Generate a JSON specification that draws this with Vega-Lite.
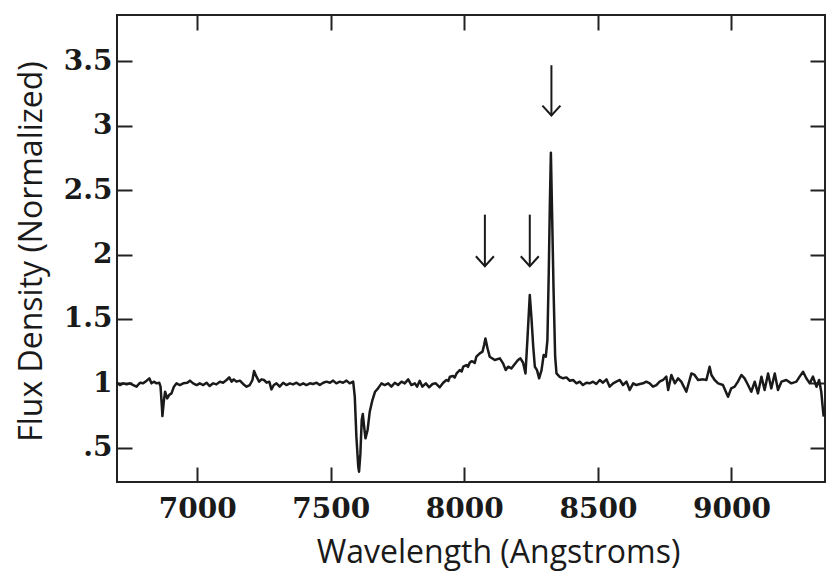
{
  "$schema": "https://vega.github.io/schema/vega-lite/v6.json",
  "width": 708,
  "height": 467,
  "autosize": {"type": "none"},
  "padding": {"left": 117, "top": 15, "right": 5, "bottom": 95},
  "background": "white",
  "config": {
    "view": {"stroke": "#222222", "strokeWidth": 2},
    "axis": {"grid": false, "domain": false, "tickColor": "#222222", "tickWidth": 2, "tickSize": -15,
             "labelColor": "#1a1a1a", "titleColor": "#1a1a1a"}
  },
  "datasets": {
    "spectrum": [
      {"w": 6700, "f": 1.005}, {"w": 6711, "f": 0.987}, {"w": 6723, "f": 1.0}, {"w": 6736, "f": 0.992},
      {"w": 6748, "f": 1.0}, {"w": 6761, "f": 0.987}, {"w": 6773, "f": 0.974}, {"w": 6786, "f": 1.005},
      {"w": 6798, "f": 1.0}, {"w": 6811, "f": 1.021}, {"w": 6821, "f": 1.039}, {"w": 6829, "f": 1.0},
      {"w": 6838, "f": 1.013}, {"w": 6848, "f": 1.0}, {"w": 6858, "f": 1.005}, {"w": 6863, "f": 0.974},
      {"w": 6868, "f": 0.819}, {"w": 6870, "f": 0.746}, {"w": 6875, "f": 0.857}, {"w": 6880, "f": 0.935},
      {"w": 6888, "f": 0.883}, {"w": 6895, "f": 0.909}, {"w": 6904, "f": 0.922}, {"w": 6913, "f": 0.974},
      {"w": 6923, "f": 1.0}, {"w": 6935, "f": 0.987}, {"w": 6948, "f": 1.0}, {"w": 6963, "f": 1.005},
      {"w": 6973, "f": 1.021}, {"w": 6985, "f": 1.0}, {"w": 6998, "f": 0.987}, {"w": 7010, "f": 1.0},
      {"w": 7023, "f": 0.987}, {"w": 7035, "f": 1.005}, {"w": 7047, "f": 0.979}, {"w": 7060, "f": 1.0},
      {"w": 7072, "f": 0.992}, {"w": 7085, "f": 1.013}, {"w": 7097, "f": 1.005}, {"w": 7110, "f": 1.026},
      {"w": 7120, "f": 1.046}, {"w": 7129, "f": 1.013}, {"w": 7137, "f": 1.031}, {"w": 7147, "f": 1.013},
      {"w": 7160, "f": 1.021}, {"w": 7172, "f": 0.995}, {"w": 7185, "f": 0.974}, {"w": 7197, "f": 0.987},
      {"w": 7207, "f": 1.026}, {"w": 7213, "f": 1.096}, {"w": 7222, "f": 1.052}, {"w": 7232, "f": 1.013},
      {"w": 7241, "f": 1.031}, {"w": 7250, "f": 1.026}, {"w": 7260, "f": 1.005}, {"w": 7270, "f": 1.013},
      {"w": 7278, "f": 0.953}, {"w": 7287, "f": 0.987}, {"w": 7297, "f": 1.0}, {"w": 7309, "f": 0.974},
      {"w": 7322, "f": 1.005}, {"w": 7334, "f": 0.987}, {"w": 7347, "f": 1.0}, {"w": 7359, "f": 0.992},
      {"w": 7372, "f": 1.005}, {"w": 7384, "f": 0.987}, {"w": 7397, "f": 1.0}, {"w": 7409, "f": 0.987},
      {"w": 7422, "f": 1.0}, {"w": 7434, "f": 0.995}, {"w": 7447, "f": 1.005}, {"w": 7459, "f": 0.987},
      {"w": 7472, "f": 1.005}, {"w": 7484, "f": 1.013}, {"w": 7497, "f": 1.005}, {"w": 7509, "f": 1.021},
      {"w": 7521, "f": 1.0}, {"w": 7534, "f": 1.013}, {"w": 7546, "f": 1.005}, {"w": 7559, "f": 1.021},
      {"w": 7571, "f": 1.0}, {"w": 7584, "f": 1.013}, {"w": 7590, "f": 0.896}, {"w": 7596, "f": 0.586},
      {"w": 7603, "f": 0.353}, {"w": 7606, "f": 0.314}, {"w": 7611, "f": 0.456}, {"w": 7616, "f": 0.715},
      {"w": 7620, "f": 0.762}, {"w": 7625, "f": 0.663}, {"w": 7630, "f": 0.573}, {"w": 7638, "f": 0.638},
      {"w": 7646, "f": 0.78}, {"w": 7656, "f": 0.87}, {"w": 7666, "f": 0.935}, {"w": 7677, "f": 0.961},
      {"w": 7690, "f": 1.0}, {"w": 7702, "f": 0.987}, {"w": 7715, "f": 1.0}, {"w": 7727, "f": 0.974},
      {"w": 7740, "f": 1.005}, {"w": 7752, "f": 0.987}, {"w": 7765, "f": 1.013}, {"w": 7777, "f": 1.0},
      {"w": 7790, "f": 1.031}, {"w": 7802, "f": 0.987}, {"w": 7815, "f": 1.0}, {"w": 7823, "f": 0.974},
      {"w": 7833, "f": 1.02}, {"w": 7843, "f": 0.974}, {"w": 7856, "f": 1.0}, {"w": 7868, "f": 0.969},
      {"w": 7881, "f": 0.995}, {"w": 7893, "f": 1.0}, {"w": 7908, "f": 0.969}, {"w": 7921, "f": 1.005},
      {"w": 7933, "f": 1.026}, {"w": 7940, "f": 1.018}, {"w": 7946, "f": 1.051}, {"w": 7958, "f": 1.057},
      {"w": 7964, "f": 1.045}, {"w": 7971, "f": 1.077}, {"w": 7983, "f": 1.103}, {"w": 7990, "f": 1.092},
      {"w": 7996, "f": 1.129}, {"w": 8008, "f": 1.142}, {"w": 8014, "f": 1.128}, {"w": 8020, "f": 1.16},
      {"w": 8027, "f": 1.172}, {"w": 8033, "f": 1.168}, {"w": 8039, "f": 1.158}, {"w": 8045, "f": 1.207},
      {"w": 8058, "f": 1.233}, {"w": 8068, "f": 1.246}, {"w": 8074, "f": 1.297}, {"w": 8079, "f": 1.349},
      {"w": 8087, "f": 1.271}, {"w": 8095, "f": 1.207}, {"w": 8114, "f": 1.181}, {"w": 8133, "f": 1.194},
      {"w": 8145, "f": 1.155}, {"w": 8155, "f": 1.103}, {"w": 8164, "f": 1.129}, {"w": 8176, "f": 1.116},
      {"w": 8189, "f": 1.15}, {"w": 8201, "f": 1.181}, {"w": 8210, "f": 1.194}, {"w": 8220, "f": 1.16},
      {"w": 8229, "f": 1.077}, {"w": 8236, "f": 1.336}, {"w": 8245, "f": 1.686}, {"w": 8251, "f": 1.517},
      {"w": 8258, "f": 1.284}, {"w": 8264, "f": 1.129}, {"w": 8272, "f": 1.103}, {"w": 8280, "f": 1.039},
      {"w": 8289, "f": 1.103}, {"w": 8297, "f": 1.22}, {"w": 8305, "f": 1.207}, {"w": 8311, "f": 1.336},
      {"w": 8316, "f": 1.854}, {"w": 8320, "f": 2.371}, {"w": 8324, "f": 2.791}, {"w": 8329, "f": 2.268},
      {"w": 8334, "f": 1.724}, {"w": 8340, "f": 1.207}, {"w": 8345, "f": 1.077}, {"w": 8357, "f": 1.051},
      {"w": 8370, "f": 1.039}, {"w": 8382, "f": 1.046}, {"w": 8395, "f": 1.02}, {"w": 8407, "f": 1.026},
      {"w": 8420, "f": 1.0}, {"w": 8432, "f": 1.013}, {"w": 8444, "f": 0.987}, {"w": 8457, "f": 1.005},
      {"w": 8469, "f": 1.0}, {"w": 8482, "f": 1.013}, {"w": 8494, "f": 0.995}, {"w": 8507, "f": 1.026},
      {"w": 8519, "f": 1.005}, {"w": 8532, "f": 1.031}, {"w": 8544, "f": 0.974}, {"w": 8557, "f": 1.0},
      {"w": 8569, "f": 1.013}, {"w": 8582, "f": 1.026}, {"w": 8594, "f": 0.987}, {"w": 8607, "f": 1.013},
      {"w": 8619, "f": 0.948}, {"w": 8632, "f": 1.0}, {"w": 8644, "f": 0.987}, {"w": 8657, "f": 0.995},
      {"w": 8669, "f": 1.0}, {"w": 8681, "f": 1.013}, {"w": 8694, "f": 1.0}, {"w": 8706, "f": 0.974},
      {"w": 8719, "f": 0.987}, {"w": 8731, "f": 1.013}, {"w": 8744, "f": 1.026}, {"w": 8756, "f": 1.052},
      {"w": 8763, "f": 0.948}, {"w": 8775, "f": 1.065}, {"w": 8788, "f": 1.0}, {"w": 8800, "f": 1.039},
      {"w": 8812, "f": 1.013}, {"w": 8831, "f": 0.935}, {"w": 8850, "f": 1.077}, {"w": 8862, "f": 1.065},
      {"w": 8875, "f": 1.026}, {"w": 8894, "f": 1.031}, {"w": 8906, "f": 1.026}, {"w": 8918, "f": 1.129},
      {"w": 8925, "f": 1.065}, {"w": 8937, "f": 1.026}, {"w": 8950, "f": 1.0}, {"w": 8968, "f": 0.987},
      {"w": 8987, "f": 0.896}, {"w": 8999, "f": 0.961}, {"w": 9012, "f": 0.974}, {"w": 9024, "f": 1.013},
      {"w": 9037, "f": 1.065}, {"w": 9049, "f": 1.039}, {"w": 9062, "f": 0.987}, {"w": 9074, "f": 0.935},
      {"w": 9087, "f": 1.013}, {"w": 9099, "f": 0.922}, {"w": 9112, "f": 1.052}, {"w": 9124, "f": 0.948},
      {"w": 9137, "f": 1.077}, {"w": 9149, "f": 0.961}, {"w": 9162, "f": 1.077}, {"w": 9174, "f": 0.948},
      {"w": 9187, "f": 1.013}, {"w": 9205, "f": 1.026}, {"w": 9224, "f": 1.0}, {"w": 9243, "f": 1.013},
      {"w": 9255, "f": 1.052}, {"w": 9268, "f": 1.09}, {"w": 9280, "f": 1.039}, {"w": 9293, "f": 1.0},
      {"w": 9305, "f": 1.052}, {"w": 9318, "f": 0.974}, {"w": 9328, "f": 1.026}, {"w": 9336, "f": 0.935},
      {"w": 9340, "f": 0.845}, {"w": 9345, "f": 0.741}
    ],
    "arrows": [
      {"w": 8077, "top": 2.31, "tip": 1.91},
      {"w": 8245, "top": 2.31, "tip": 1.91},
      {"w": 8326, "top": 3.47, "tip": 3.08}
    ]
  },
  "layer": [
    {
      "data": {"name": "spectrum"},
      "mark": {"type": "line", "color": "#1a1a1a", "strokeWidth": 2.5, "strokeJoin": "round"},
      "encoding": {
        "x": {
          "field": "w", "type": "quantitative",
          "scale": {"domain": [6700, 9350], "nice": false, "zero": false},
          "axis": {
            "orient": "bottom", "values": [7000, 7500, 8000, 8500, 9000], "format": "d",
            "labelFont": "DejaVu Serif", "labelFontWeight": "bold", "labelFontSize": 28,
            "labelBaseline": "alphabetic", "labelPadding": 50, "labelFlush": false,
            "title": "Wavelength (Angstroms)", "titleFont": "Open Sans", "titleFontWeight": "normal",
            "titleFontSize": 32, "titleX": 381, "titleY": 80, "titleAlign": "center",
            "titleBaseline": "alphabetic"
          }
        },
        "y": {
          "field": "f", "type": "quantitative",
          "scale": {"domain": [0.234, 3.86], "nice": false, "zero": false},
          "axis": {
            "orient": "left", "values": [0.5, 1, 1.5, 2, 2.5, 3, 3.5],
            "labelExpr": "datum.value == 0.5 ? '.5' : toString(datum.value)",
            "labelFont": "DejaVu Serif", "labelFontWeight": "bold", "labelFontSize": 28,
            "labelBaseline": "middle", "labelPadding": 20, "labelFlush": false,
            "title": "Flux Density (Normalized)", "titleFont": "Open Sans", "titleFontWeight": "normal",
            "titleFontSize": 32, "titleX": -76, "titleY": 236, "titleAngle": -90,
            "titleAlign": "center", "titleBaseline": "alphabetic"
          }
        }
      }
    },
    {
      "data": {"name": "arrows"},
      "mark": {"type": "rule", "color": "#1a1a1a", "strokeWidth": 2},
      "encoding": {
        "x": {
          "field": "w", "type": "quantitative",
          "scale": {"domain": [6700, 9350], "nice": false, "zero": false},
          "axis": {"orient": "top", "values": [7000, 7500, 8000, 8500, 9000], "labels": false, "title": null}
        },
        "y": {
          "field": "top", "type": "quantitative",
          "scale": {"domain": [0.234, 3.86], "nice": false, "zero": false},
          "axis": {"orient": "right", "values": [0.5, 1, 1.5, 2, 2.5, 3, 3.5], "labels": false, "title": null}
        },
        "y2": {"field": "tip"}
      }
    },
    {
      "data": {"name": "arrows"},
      "mark": {"type": "point", "shape": "M-1,-1.1L0,0L1,-1.1", "size": 324, "filled": false,
               "strokeWidth": 2, "color": "#1a1a1a", "opacity": 1},
      "encoding": {
        "x": {"field": "w", "type": "quantitative", "axis": null},
        "y": {"field": "tip", "type": "quantitative", "axis": null}
      }
    }
  ],
  "resolve": {"axis": {"x": "independent", "y": "independent"}}
}
